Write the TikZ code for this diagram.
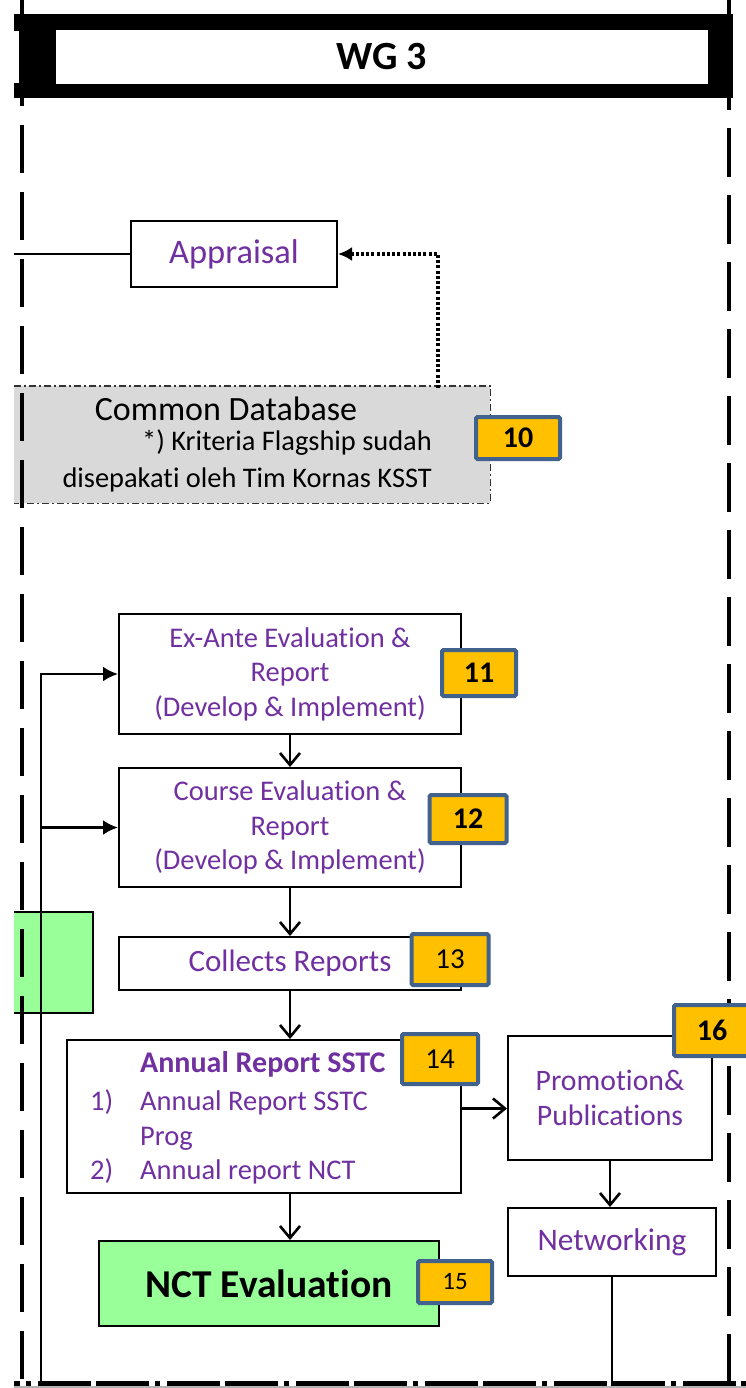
\documentclass[tikz,border=0pt]{standalone}
\usepackage{fontspec}
\setmainfont{Carlito}[Ligatures=NoCommon]
\usetikzlibrary{arrows.meta,calc}
\definecolor{purp}{HTML}{7030A0}
\definecolor{badgefill}{HTML}{FFC000}
\definecolor{badgeline}{HTML}{41628C}
\definecolor{lgreen}{HTML}{99FF99}
\definecolor{dbgray}{HTML}{D9D9D9}
\begin{document}
\begin{tikzpicture}[x=1pt,y=-1pt,
  box/.style={draw=black, line width=2pt, fill=white, inner sep=0pt, text=purp, align=center, font=\fontsize{28.5}{34.5}\selectfont},
  greenbox/.style={draw=black, line width=2pt, fill=lgreen, inner sep=0pt},
  badge/.style={draw=badgeline, fill=badgefill, line width=4pt, rounded corners=1.5pt, inner sep=0pt, text=black, font=\bfseries\fontsize{30}{32}\selectfont},
  badgereg/.style={badge, font=\fontsize{29}{31}\selectfont},
  txt/.style={inner sep=0pt, text=purp, font=\fontsize{28.5}{34.5}\selectfont},
  barb/.style={-{Straight Barb[length=12pt,width=20pt,line width=2.6pt]}, line width=2.6pt},
  tri/.style={-{Latex[length=15pt,width=15pt]}, line width=2.6pt},
  frame/.style={line width=4.8pt, black},
  dbborder/.style={line width=1.4pt, black!80, dash pattern=on 7pt off 3pt on 2pt off 3pt}
]
\useasboundingbox (0,0) rectangle (746,1388);
\clip (0,0) rectangle (746,1388);
\fill[white] (0,0) rectangle (746,1388);

% Common database background
\node[fill=dbgray, inner sep=0pt, minimum width=476pt, minimum height=117pt] (cdb) at (252,444.5) {};
\draw[dbborder] (cdb.north west) -- (cdb.north east) -- (cdb.south east) -- (cdb.south west);
\node[inner sep=0pt, anchor=base, font=\fontsize{34}{36}\selectfont] (cdbt) at (226,420) {Common Database};
\node[inner sep=0pt, anchor=base east, font=\fontsize{28.4}{32}\selectfont] (cdb1) at (432,450) {*) Kriteria Flagship sudah};
\node[inner sep=0pt, anchor=base east, font=\fontsize{28.4}{32}\selectfont] (cdb2) at (432,487) {disepakati oleh Tim Kornas KSST};

% green box at left
\node[fill=lgreen, inner sep=0pt, minimum width=79pt, minimum height=101pt] (gleft) at (53.5,962.5) {};
\draw[line width=2pt] (gleft.north west) -- (gleft.north east) -- (gleft.south east) -- (gleft.south west);

% frame lines
\draw[frame, dash pattern=on 48pt off 19pt, dash phase=40pt] (22,98) -- (22,1383);
\draw[frame, dash pattern=on 49pt off 18pt, dash phase=37pt] (729,98) -- (729,1383);
\draw[frame] (22,0) -- (22,16);
\draw[frame] (729,0) -- (729,16);

% header
\fill[black] (14,14) rectangle (733,98);
\fill[white] (12,31) rectangle (19,83);
\draw[line width=2pt] (21,31) -- (21,83);
\node[fill=white, inner sep=0pt, minimum width=652pt, minimum height=54pt, font=\bfseries\fontsize{40}{42}\selectfont] (wg) at (382,57) {WG 3};

% boxes
\node[box, minimum width=206pt, minimum height=66pt, font=\fontsize{34.4}{36}\selectfont] (appr) at (234,254) {Appraisal};
\node[box, minimum width=342pt, minimum height=120pt] (exante) at (290,674) {Ex-Ante Evaluation \&\\Report\\(Develop \& Implement)};
\node[box, minimum width=342pt, minimum height=119pt] (course) at (290,827.5) {Course Evaluation \&\\Report\\(Develop \& Implement)};
\node[box, minimum width=342pt, minimum height=53pt, font=\fontsize{31}{34}\selectfont] (collect) at (290,963.5) {Collects Reports};
\node[box, minimum width=394pt, minimum height=153pt] (annual) at (264,1116.5) {};
\node[box, minimum width=204pt, minimum height=124pt, font=\fontsize{29.7}{35}\selectfont] (promo) at (610,1098) {Promotion\&\\Publications};
\node[box, minimum width=208pt, minimum height=68pt, font=\fontsize{31.4}{34}\selectfont] (net) at (612,1242) {Networking};
\node[greenbox, minimum width=340pt, minimum height=85pt, text=black, font=\bfseries\fontsize{39.5}{42}\selectfont] (nct) at (269,1283.5) {NCT Evaluation};

% annual report text
\node[txt, anchor=base west, font=\bfseries\fontsize{30}{34}\selectfont] (a0) at (140,1072) {Annual Report SSTC};
\node[txt, anchor=base west] (a1n) at (90,1110) {1)};
\node[txt, anchor=base west] (a1) at (140,1110) {Annual Report SSTC};
\node[txt, anchor=base west] (a1b) at (140,1145) {Prog};
\node[txt, anchor=base west] (a2n) at (90,1179) {2)};
\node[txt, anchor=base west] (a2) at (140,1179) {Annual report NCT};

% connectors
\coordinate (aleft) at (14,254);
\draw[line width=2.6pt] (aleft) -- (appr.west);
\coordinate (dbtop) at (438,388);
\draw[-{Latex[length=14pt,width=14pt]}, line width=3.2pt, dash pattern=on 3pt off 2.2pt] (dbtop) |- (appr.east);

\draw[barb] (exante.south) -- (course.north);
\draw[barb] (course.south) -- (collect.north);
\draw[barb] (collect.south) -- (collect.south |- annual.north);
\draw[barb] (annual.south -| collect.south) -- (nct.north -| collect.south);
\coordinate (arstart) at ($(annual.east)+(0,-8)$);
\draw[barb] (arstart) -- (arstart -| promo.west);
\draw[barb] (promo.south) -- (promo.south |- net.north);
\coordinate (netbot) at (612,1388);
\draw[line width=2.6pt] (net.south) -- (netbot);

\coordinate (lbot) at (41,1388);
\draw[tri] (lbot) |- (exante.west);
\draw[tri] (course.west -| lbot) -- (course.west);

% bottom frame
\draw[frame, line width=5pt, dash pattern=on 53pt off 5pt on 53pt off 6pt on 5pt off 7pt, dash phase=105pt] (14,1383) -- (746,1383);
\fill[black!30] (14,1386) rectangle (746,1388);

% badges
\node[badge, minimum width=84pt, minimum height=42pt] (b10) at (518,438) {10};
\node[badge, minimum width=74pt, minimum height=46pt] (b11) at (479,673) {11};
\node[badge, minimum width=77pt, minimum height=48pt] (b12) at (468,819) {12};
\node[badgereg, minimum width=77pt, minimum height=51pt] (b13) at (450,959.5) {13};
\node[badgereg, minimum width=76pt, minimum height=50pt] (b14) at (440,1059) {14};
\node[badgereg, minimum width=74pt, minimum height=42pt, font=\fontsize{25}{27}\selectfont] (b15) at (455,1282) {15};
\node[badge, minimum width=76pt, minimum height=51pt] (b16) at (712,1030.5) {16};
\end{tikzpicture}
\end{document}
